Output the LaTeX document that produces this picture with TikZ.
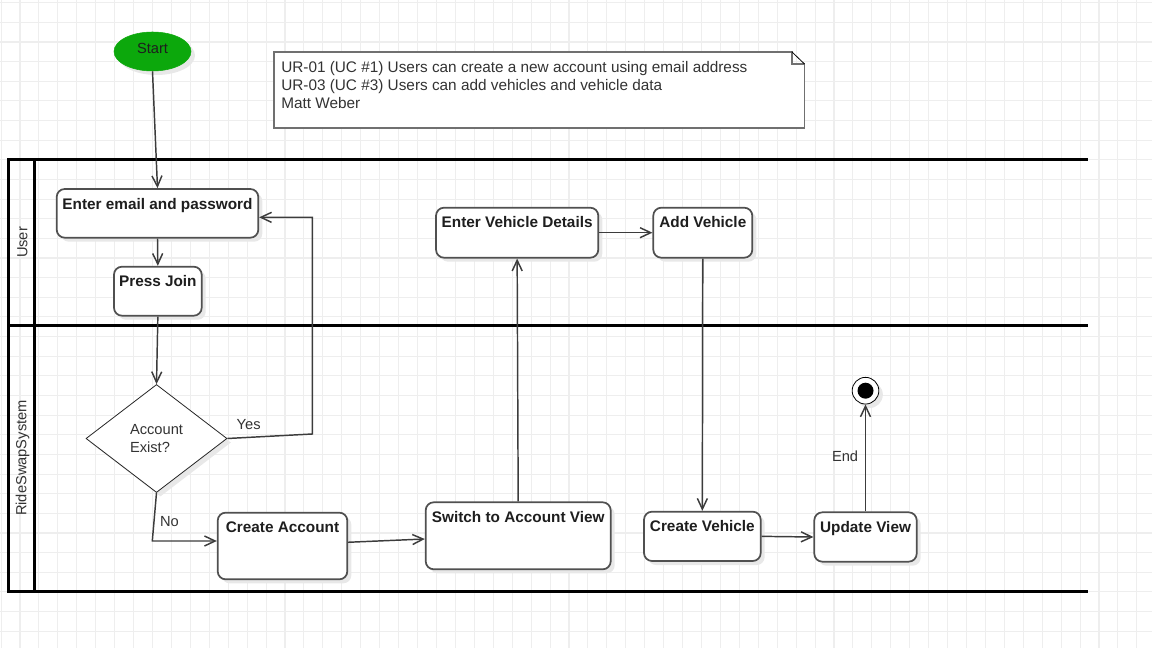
\documentclass[tikz,border=0pt]{standalone}
\usepackage{fontspec}
\setmainfont{Liberation Sans}
\usetikzlibrary{arrows.meta,shapes.geometric,shadows}

\definecolor{gridgray}{HTML}{EEEEEE}
\definecolor{boxgray}{HTML}{505050}
\definecolor{flowgray}{HTML}{3C3C3C}
\definecolor{textdark}{HTML}{1E1E1E}
\definecolor{textgray}{HTML}{333333}
\definecolor{notegray}{HTML}{707070}
\definecolor{startgreen}{HTML}{0CA80C}

\begin{document}
\begin{tikzpicture}[x=0.75pt,y=-0.75pt,
  gridline/.style={draw=gridgray,line width=0.8pt},
  lane/.style={draw=black,line width=2.3pt,line join=miter},
  soft/.style={drop shadow={shadow xshift=3pt,shadow yshift=-3pt,fill=black!9,opacity=1}},
  act/.style 2 args={draw=boxgray,line width=1.3pt,fill=white,rounded corners=6pt,
    minimum width=#1,inner xsep=0pt,inner ysep=0pt,text height=15pt,text depth=#2,
    font=\bfseries\fontsize{11.5}{13}\selectfont,text=textdark,soft},
  flow/.style={draw=flowgray,line width=1.1pt,-{Straight Barb[length=8pt,width=7.5pt]}},
  lbl/.style={font=\fontsize{11}{13}\selectfont,text=textgray,inner sep=1pt},
  lanelbl/.style={font=\fontsize{11}{13}\selectfont,text=textgray,rotate=90},
  notebox/.style={draw=notegray,line width=1.4pt,fill=white},
]
\useasboundingbox (0,0) rectangle (1152,648);

% background grid
\foreach \i in {0,...,61} \draw[gridline] ({1.07+18.93*\i},0) -- ++(0,648);
\foreach \j in {0,...,33} \draw[gridline] (0,{2.7+19.64*\j}) -- ++(1152,0);

% swimlanes
\draw[lane] (1087.7,159.7) -- (8.7,159.7) -- (8.7,591.3) -- (1087.7,591.3);
\draw[lane] (34.5,159.7) -- (34.5,591.3);
\draw[lane] (8.7,325.3) -- (1087.7,325.3);
\node[lanelbl] (userlane) at (22.5,242.5) {User};
\node[lanelbl] (syslane) at (22.5,458) {RideSwapSystem};

% requirements note with folded corner
\draw[notebox] (274,51.7) -- (791.7,51.7) -- (791.7,64) -- (804.5,64) -- (804.5,128.3) -- (274,128.3) -- cycle;
\draw[black,line width=0.6pt] (791.7,51.7) -- (804.5,64);
\node[anchor=north west,inner sep=0pt,align=left,text=textgray,
      font=\fontsize{11.5}{13.5}\selectfont] (note) at (281,61)
  {UR-01 (UC \#1) Users can create a new account using email address\\
   UR-03 (UC \#3) Users can add vehicles and vehicle data\\
   Matt Weber};

% start state
\node[ellipse,fill=startgreen,draw=startgreen,minimum width=57.75pt,minimum height=29.25pt,
      text height=8pt,text depth=5.1pt,inner sep=0pt,
      font=\fontsize{11}{13}\selectfont,text=textdark,soft] (start) at (152.5,51.5) {Start};

% activities
\node[act={151.2pt}{21.5pt}] (email) at (157.5,213.35) {Enter email and password};
\node[act={65.8pt}{21.75pt}] (join) at (157.85,291.2) {Press Join};
\node[act={97.2pt}{35pt}] (cacct) at (282.5,546) {Create Account};
\node[act={138.75pt}{35.25pt}] (switch) at (518.2,535.8) {Switch to Account View};
\node[act={121.7pt}{22.5pt}] (evd) at (517.15,232.7) {Enter Vehicle Details};
\node[act={74.25pt}{22.5pt}] (addv) at (702.8,232.7) {Add Vehicle};
\node[act={87.5pt}{22pt}] (cveh) at (702.35,536.35) {Create Vehicle};
\node[act={76.8pt}{22pt}] (upd) at (865.5,537) {Update View};

% decision
\node[diamond,draw=black!85,line width=0.6pt,fill=white,minimum width=105.75pt,
      minimum height=81pt,inner sep=0pt,align=left,font=\fontsize{11}{13}\selectfont,
      text=textgray,soft] (dec) at (156.5,438.5) {Account\\Exist?};

% final state
\node[circle,draw=black,line width=0.6pt,fill=white,minimum size=20pt,inner sep=0pt,soft,
      path picture={\fill[black] (path picture bounding box.center) circle (6pt);}]
      (endn) at (865.5,390.7) {};

% bends of the routed connectors
\coordinate (yesbend) at (312.3,434);
\coordinate (nobend) at (152.3,541);

% connectors
\draw[flow] (start.south) -- (email.north);
\draw[flow] (email.south) -- (join.north);
\draw[flow] (join.south) -- (dec.north);
\draw[flow] (dec.east) -- node[lbl,pos=0.25,above=4pt] (yes) {Yes} (yesbend) |- ([yshift=-3pt]email.east);
\draw[flow] (dec.south) -- node[lbl,pos=0.6,right=3pt] (no) {No} (nobend) -- ([yshift=3.75pt]cacct.west);
\draw[flow] ([yshift=2.8pt]cacct.east) -- ([yshift=-2.4pt]switch.west);
\draw[flow] (switch.north) -- (evd.south);
\draw[flow] (evd.east) -- (addv.west);
\draw[flow] (addv.south) -- (cveh.north);
\draw[flow] (cveh.east) -- (upd.west);
\draw[flow] (upd.north) -- node[lbl,pos=0.52,left=4pt] (endlbl) {End} (endn.south);
\end{tikzpicture}
\end{document}
